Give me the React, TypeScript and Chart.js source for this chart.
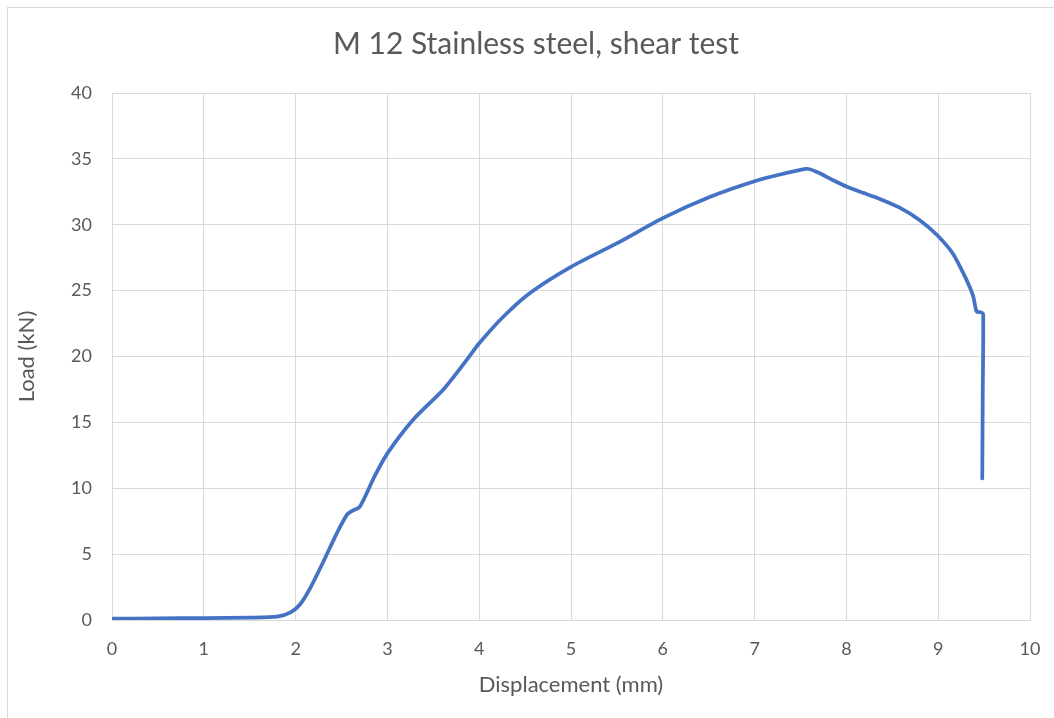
import React, { useEffect, useRef } from "react";
import { Chart, registerables } from "chart.js";

Chart.register(...registerables);

const displacement: number[] = [
  0, 0.5, 1.0, 1.5, 1.8, 1.95, 2.05, 2.15, 2.3, 2.45, 2.56, 2.62, 2.7, 2.86, 3.0,
  3.28, 3.61, 3.86, 4.0, 4.26, 4.55, 5.0, 5.53, 6.0, 6.51, 7.0, 7.3, 7.57, 7.68,
  7.85, 8.0, 8.15, 8.35, 8.58, 8.8, 8.99, 9.16, 9.31, 9.38, 9.42, 9.47, 9.49,
  9.485, 9.48,
];
const load: number[] = [
  0.1, 0.12, 0.15, 0.18, 0.25, 0.6, 1.2, 2.3, 4.4, 6.6, 8.0, 8.3, 8.6, 10.9, 12.65,
  15.2, 17.5, 19.7, 21.0, 23.0, 24.8, 26.8, 28.7, 30.5, 32.1, 33.3, 33.85, 34.25,
  34.0, 33.4, 32.9, 32.5, 32.0, 31.3, 30.35, 29.2, 27.8, 25.8, 24.6, 23.4, 23.35,
  23.2, 17.0, 10.75,
];
const chartTitle = "M 12 Stainless steel, shear test";
const xTitle = "Displacement (mm)";
const yTitle = "Load (kN)";

const FONT = "Lato, 'Open Sans', sans-serif";
const TEXT = "#595959";
const GRID = "#d9d9d9";

const titlePlugin = {
  id: "centeredTitle",
  afterDraw(chart: any) {
    const ctx = chart.ctx;
    ctx.save();
    ctx.fillStyle = TEXT;
    ctx.font = `normal 30px ${FONT}`;
    ctx.textAlign = "center";
    ctx.textBaseline = "middle";
    ctx.fillText(chartTitle, 536, 44);
    ctx.restore();
  },
};

export default function App() {
  const ref = useRef<HTMLCanvasElement | null>(null);
  useEffect(() => {
    if (!ref.current) return;
    const points = displacement.map((x, i) => ({ x, y: load[i] }));
    const chart = new Chart(ref.current, {
      type: "scatter",
      data: {
        datasets: [
          {
            data: points,
            showLine: true,
            borderColor: "#4472c4",
            backgroundColor: "#4472c4",
            borderWidth: 3.75,
            pointRadius: 0,
            tension: 0.25,
            borderCapStyle: "round",
            borderJoinStyle: "round",
          },
        ],
      },
      plugins: [titlePlugin],
      options: {
        animation: false,
        responsive: false,
        devicePixelRatio: 1,
        layout: {
          autoPadding: false,
          padding: { left: 0, right: 24, top: 93, bottom: 0 },
        },
        plugins: {
          legend: { display: false },
          tooltip: { enabled: false },
          title: { display: false },
        },
        scales: {
          x: {
            type: "linear",
            min: 0,
            max: 10,
            ticks: {
              stepSize: 1,
              color: TEXT,
              font: { family: FONT, size: 18 },
              padding: 18,
            },
            grid: { color: GRID, drawTicks: false, lineWidth: 1 },
            border: { color: GRID },
            title: {
              display: true,
              text: xTitle,
              color: TEXT,
              font: { family: FONT, size: 22 },
              padding: { top: 0, bottom: 20 },
            },
            afterFit: (scale: any) => {
              scale.height = 98;
              scale.paddingLeft = 0;
              scale.paddingRight = 0;
            },
          },
          y: {
            type: "linear",
            min: 0,
            max: 40,
            ticks: {
              stepSize: 5,
              color: TEXT,
              font: { family: FONT, size: 18 },
              padding: 20,
            },
            grid: { color: GRID, drawTicks: false, lineWidth: 1 },
            border: { color: GRID },
            title: {
              display: true,
              text: yTitle,
              color: TEXT,
              font: { family: FONT, size: 22 },
              padding: { top: 14, bottom: 0 },
            },
            afterFit: (scale: any) => {
              scale.width = 112;
              scale.paddingTop = 0;
              scale.paddingBottom = 0;
            },
          },
        },
      },
    });
    return () => chart.destroy();
  }, []);

  return (
    <div>
      <div
        style={{
          position: "fixed",
          left: 7,
          top: 7,
          width: 1060,
          height: 730,
          border: "1px solid #d9d9d9",
          boxSizing: "border-box",
          background: "#fff",
        }}
      />
      <canvas
        ref={ref}
        width={1054}
        height={718}
        style={{ position: "fixed", left: 0, top: 0, width: 1054, height: 718 }}
      />
    </div>
  );
}
